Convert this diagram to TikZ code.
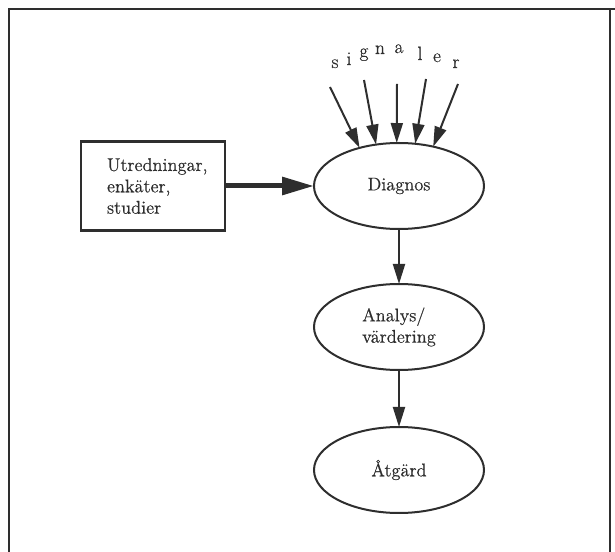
\documentclass[tikz,border=0pt]{standalone}
\usepackage{fontspec}
\usetikzlibrary{arrows.meta,shapes.geometric}
\newfontfamily\inkfont{Latin Modern Roman}[FakeBold=0.6]
\definecolor{ink}{HTML}{2E2E2E}
\begin{document}
\begin{tikzpicture}[x=0.75pt,y=-0.75pt,
  every node/.style={font=\inkfont\fontsize{13.8}{16}\selectfont, text=ink},
  stage/.style={ellipse, draw=ink, line width=1.5pt, minimum width=127.5pt,
    minimum height=64.5pt, inner sep=0pt, outer sep=0pt, align=left},
  source/.style={rectangle, draw=ink, line width=1.8pt, minimum width=108pt,
    minimum height=66.75pt, inner sep=0pt, outer sep=0pt, align=left,
    text width=69pt},
  flow/.style={draw=ink, line width=1.5pt, -{Triangle[length=15pt,width=9pt]}},
  bigflow/.style={draw=ink, line width=3.75pt, -{Triangle[length=24pt,width=13pt]}},
  letter/.style={anchor=base, inner sep=0pt, font=\inkfont\fontsize{14.5}{16}\selectfont},
  frameline/.style={draw=ink, line width=2pt}
]
\useasboundingbox (0,0) rectangle (615,552);

% open frame around the figure
\draw[frameline] (9,552) -- (9,9) -- (615,9);
\draw[frameline] (610,9) -- (610,552);

% process stages
\node[source] (src) at (153,186) {\hbadness=10000\hfuzz=50pt Utredningar,\\enkäter,\\studier};
\node[stage] (diag) at (399,186) {Diagnos};
\node[stage] (anal) at (399,327) {Analys/\\värdering};
\node[stage] (atg)  at (399,470) {Åtgärd};

% incoming signals, lettered along an arc
\node[letter] (l1) at (335,68) {s};
\node[letter] (l2) at (349,65) {i};
\node[letter] (l3) at (364,57) {g};
\node[letter] (l4) at (380,54) {n};
\node[letter] (l5) at (399,53) {a};
\node[letter] (l6) at (420,60) {l};
\node[letter] (l7) at (437,62) {e};
\node[letter] (l8) at (456,68) {r};

\coordinate (s1) at (330,87);
\coordinate (s2) at (364,80);
\coordinate (s3) at (397,84);
\coordinate (s4) at (426,79);
\coordinate (s5) at (458,84);

\draw[flow] (s1) -- (diag.136);
\draw[flow] (s2) -- (diag.119);
\draw[flow] (s3) -- (diag.93);
\draw[flow] (s4) -- (diag.69);
\draw[flow] (s5) -- (diag.49);

% main flow
\draw[bigflow] (src.east) -- (diag.west);
\draw[flow] (diag.south) -- (anal.north);
\draw[flow] (anal.south) -- (atg.north);
\end{tikzpicture}
\end{document}
